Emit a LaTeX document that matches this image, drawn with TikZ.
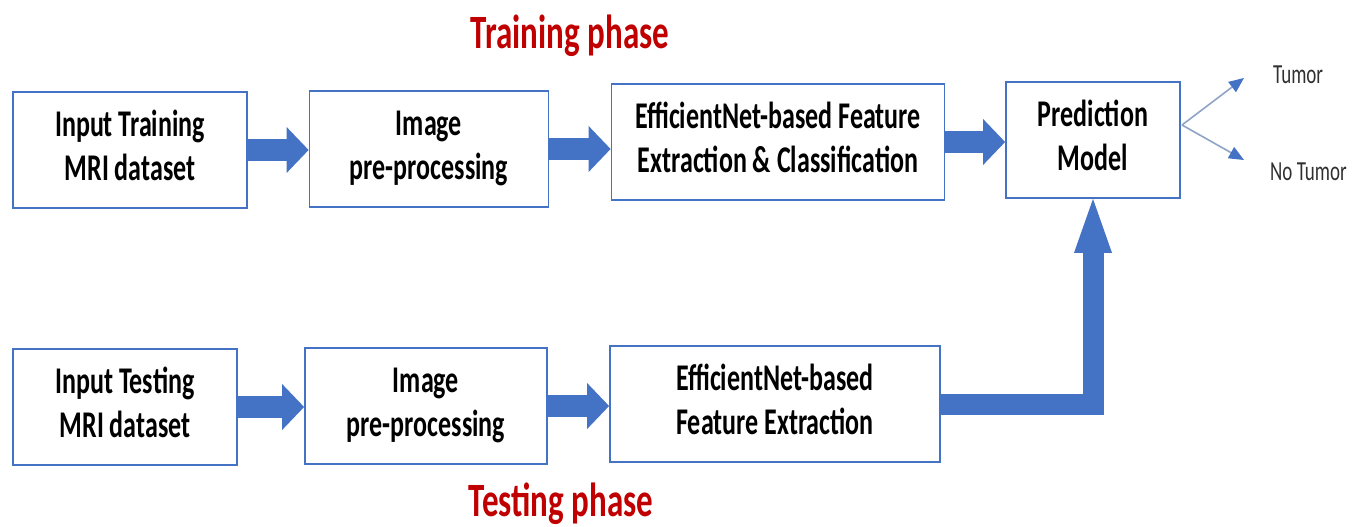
\documentclass[tikz,border=0pt]{standalone}
\usepackage{fontspec}
\setmainfont{Carlito}
\usepackage{graphicx}
\usepackage{tikz}
\usetikzlibrary{arrows.meta}
\usetikzlibrary{calc}
\usepackage{xcolor}
\definecolor{boxblue}{HTML}{4472C4}
\definecolor{phasered}{HTML}{C00000}
\definecolor{forkgray}{HTML}{8FA3C7}
\definecolor{labelgray}{HTML}{303030}
\newcommand{\tallText}[1]{\scalebox{1}[1.45]{\begin{tabular}{@{}c@{}}#1\end{tabular}}}

\begin{document}
\begin{tikzpicture}[x=1pt, y=-1pt]
        \tikzstyle{block}=[draw=boxblue, line width=1.8pt, fill=white, inner sep=0pt, minimum height=116pt, font=\fontsize{26}{30}\selectfont\bfseries]
        \tikzstyle{fatarrow}=[draw=boxblue, line width=22pt, -{Triangle[width=46pt, length=22pt, line width=0pt]}]
        \tikzstyle{phase}=[text=phasered, inner sep=0pt, anchor=base, font=\fontsize{33}{36}\selectfont\bfseries]
        \tikzstyle{outtext}=[text=labelgray, inner sep=0pt, anchor=base west, font=\fontsize{19}{22}\selectfont]
        \tikzstyle{outarrow}=[draw=forkgray, line width=1.6pt, -{Triangle[width=13pt, length=15pt, line width=0pt, fill=boxblue]}]

        \useasboundingbox (0,0) rectangle (1358,527);

        % 上排: 训练阶段
        \node[block, minimum width=234pt] (trIn) at (130,150) {\tallText{Input Training\\MRI dataset}};
        \node[block, minimum width=239pt] (trPre) at (429,149) {\tallText{Image\\pre-processing}};
        \node[block, minimum width=333pt] (trFeat) at (778,142) {\tallText{EfficientNet-based Feature\\Extraction \& Classification}};
        \node[block, minimum width=174pt] (pred) at (1093,140) {\tallText{Prediction\\Model}};

        % 下排: 测试阶段
        \node[block, minimum width=224pt] (teIn) at (125,407) {\tallText{Input Testing\\MRI dataset}};
        \node[block, minimum width=242pt] (tePre) at (426,406) {\tallText{Image\\pre-processing}};
        \node[block, minimum width=330pt] (teFeat) at (775,404) {\tallText{EfficientNet-based\\Feature Extraction}};

        % 粗箭头
        \foreach \a/\b in {trIn/trPre, trPre/trFeat, trFeat/pred, teIn/tePre, tePre/teFeat} {
            \draw[fatarrow] (\a.east) -- (\a.east -| \b.west);
        }
        \draw[fatarrow, line width=21pt, -{Triangle[width=38pt, length=54pt, line width=0pt]}] (teFeat.east) -| (pred.south);

        % 输出: Tumor / No Tumor
        \coordinate (fork) at (1182,125);
        \coordinate (tumor) at (1244,78);
        \coordinate (notumor) at (1244,160);
        \draw[outarrow] (fork) -- (tumor);
        \draw[outarrow] (fork) -- (notumor);
        \node[outtext] (tumLbl) at (1273,83) {\tallText{Tumor}};
        \node[outtext] (notumLbl) at (1270,180) {\tallText{No Tumor}};

        % 标题
        \node[phase] (trTitle) at (570,47) {\tallText{Training phase}};
        \node[phase] (teTitle) at (561,515) {\tallText{Testing phase}};
    \end{tikzpicture}
\end{document}
